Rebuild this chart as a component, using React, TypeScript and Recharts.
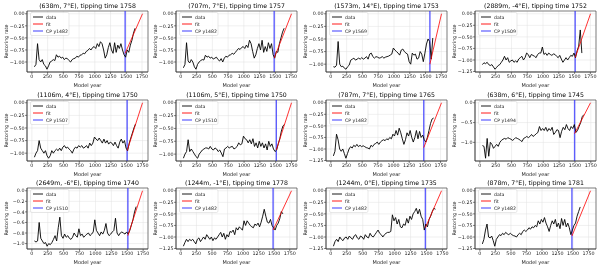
import {
  CartesianGrid,
  ComposedChart,
  Line,
  ReferenceArea,
  ReferenceLine,
  XAxis,
  YAxis,
} from "recharts";

document.body.style.margin = "0";

// shared model years of the sampled restoring-rate series
const years = [
  40, 65, 90, 115, 140, 165, 190, 215, 240, 265,
  290, 315, 340, 365, 390, 415, 440, 465, 490, 515,
  540, 565, 590, 615, 640, 665, 690, 715, 740, 765,
  790, 815, 840, 865, 890, 915, 940, 965, 990, 1015,
  1040, 1065, 1090, 1115, 1140, 1165, 1190, 1215, 1240, 1265,
  1290, 1315, 1340, 1365, 1390, 1415, 1440, 1465, 1490, 1515,
  1540, 1565, 1590, 1615, 1640,
];

const titles = [
  "(638m, 7°E), tipping time 1758",
  "(707m, 7°E), tipping time 1757",
  "(1573m, 14°E), tipping time 1753",
  "(2889m, -4°E), tipping time 1752",
  "(1106m, 4°E), tipping time 1750",
  "(1106m, 5°E), tipping time 1750",
  "(787m, 7°E), tipping time 1765",
  "(638m, 6°E), tipping time 1745",
  "(2649m, -6°E), tipping time 1740",
  "(1244m, -1°E), tipping time 1778",
  "(1244m, 0°E), tipping time 1735",
  "(878m, 7°E), tipping time 1781",
];
const tipYears = [1758, 1757, 1753, 1752, 1750, 1750, 1765, 1745, 1740, 1778, 1735, 1781];
const cpYears = [1482, 1482, 1569, 1509, 1507, 1510, 1482, 1494, 1510, 1482, 1482, 1482];
const fitStarts = [-0.82, -0.92, -1.0, -0.95, -0.95, -0.92, -0.97, -0.78, -0.85, -0.85, -0.8, -0.98];

const p1 = [
  -1.10, -1.05, -0.62, -0.95, -1.00, -0.95, -1.05, -1.08, -1.15, -1.08,
  -1.00, -0.98, -0.95, -0.97, -0.85, -0.90, -0.88, -0.92, -0.90, -0.95,
  -0.92, -0.93, -0.97, -1.00, -0.95, -0.93, -0.92, -0.88, -0.90, -0.86,
  -0.85, -0.82, -0.83, -0.78, -0.76, -0.72, -0.75, -0.70, -0.68, -0.72,
  -0.62, -0.68, -0.58, -0.62, -0.75, -0.92, -0.85, -0.70, -0.60, -0.75,
  -0.82, -0.60, -0.80, -0.65, -0.72, -0.62, -0.75, -0.85, -0.90, -0.75,
  -0.80, -0.65, -0.55, -0.40, -0.30,
];
const p2 = [
  -1.12, -1.05, -0.60, -0.98, -1.02, -0.95, -1.00, -1.10, -1.15, -1.05,
  -1.00, -0.97, -0.95, -0.96, -0.86, -0.90, -0.88, -0.92, -0.90, -0.94,
  -0.92, -0.90, -0.95, -0.98, -0.93, -1.00, -0.92, -0.88, -0.90, -0.86,
  -0.85, -0.82, -0.84, -0.80, -0.76, -0.72, -0.74, -0.70, -0.68, -0.72,
  -0.65, -0.70, -0.55, -0.62, -0.78, -0.92, -0.85, -0.72, -0.62, -0.75,
  -0.55, -0.80, -0.68, -0.78, -0.60, -0.72, -0.62, -0.85, -0.92, -0.78,
  -0.80, -0.62, -0.50, -0.38, -0.30,
];
const p3 = [
  -1.05, -1.06, -1.02, -0.55, -1.00, -1.05, -1.04, -1.08, -1.10, -1.05,
  -1.02, -0.92, -0.90, -0.88, -0.92, -0.90, -0.88, -0.90, -0.87, -0.90,
  -0.88, -0.85, -0.90, -0.80, -0.78, -0.85, -0.88, -0.85, -0.86, -0.88,
  -0.87, -0.85, -0.88, -0.86, -0.85, -0.84, -0.82, -0.80, -0.68, -0.72,
  -0.75, -0.78, -0.82, -0.72, -0.70, -0.75, -0.78, -0.80, -0.95, -1.00,
  -0.78, -0.82, -0.80, -0.90, -0.88, -0.75, -0.80, -0.95, -0.78, -0.60,
  -0.50, -0.55, -0.90, -0.48, null,
];
const p4 = [
  -1.10, -1.06, -1.08, -1.05, -1.10, -1.12, -1.10, -1.15, -1.20, -1.16,
  -1.12, -1.10, -1.05, -1.00, -0.92, -1.00, -0.95, -1.05, -1.02, -1.00,
  -1.05, -1.02, -1.05, -0.98, -0.95, -0.92, -1.00, -0.95, -0.85, -0.88,
  -0.95, -0.88, -0.90, -0.92, -0.95, -0.88, -0.85, -0.85, -0.72, -0.88,
  -0.85, -0.90, -0.85, -0.88, -0.90, -0.87, -0.88, -0.92, -0.95, -0.90,
  -0.98, -1.05, -1.00, -0.95, -1.00, -0.95, -0.90, -0.92, -0.85, -0.95,
  -0.80, -0.70, -0.35, -0.85, null,
];
const p5 = [
  -1.08, -1.00, -0.95, -0.75, -0.90, -0.95, -1.00, -0.95, -1.05, -1.10,
  -1.05, -0.95, -1.00, -0.95, -0.92, -0.95, -0.90, -0.95, -0.88, -0.85,
  -0.90, -0.88, -0.92, -0.95, -1.00, -0.92, -0.88, -0.90, -0.85, -0.88,
  -0.85, -0.90, -0.88, -0.85, -0.90, -0.80, -0.85, -0.80, -0.68, -0.72,
  -0.75, -0.70, -0.75, -0.80, -0.72, -0.80, -0.75, -0.82, -0.78, -0.80,
  -0.85, -0.78, -0.85, -0.90, -0.78, -0.72, -0.80, -0.75, -0.90, -0.95,
  -0.80, -0.70, -0.60, -0.50, -0.42,
];
const p6 = [
  -1.08, -1.00, -0.95, -0.72, -0.95, -0.90, -0.95, -1.00, -1.05, -1.08,
  -1.00, -0.96, -0.92, -0.90, -0.88, -0.88, -0.90, -0.85, -0.90, -0.92,
  -0.88, -0.90, -0.95, -0.92, -0.98, -1.05, -0.90, -0.88, -0.85, -0.88,
  -0.86, -0.85, -0.90, -0.88, -0.85, -0.78, -0.82, -0.80, -0.65, -0.70,
  -0.72, -0.78, -0.72, -0.80, -0.70, -0.85, -0.78, -0.88, -0.75, -0.85,
  -0.78, -0.88, -0.80, -0.92, -0.75, -0.85, -0.80, -0.90, -0.95, -0.92,
  -0.80, -0.70, -0.55, -0.45, -0.42,
];
const p7 = [
  -1.15, -1.05, -0.68, -0.80, -1.00, -1.05, -1.00, -1.10, -1.20, -1.10,
  -1.00, -0.95, -0.98, -0.92, -0.95, -0.90, -0.95, -0.92, -0.95, -0.93,
  -0.95, -0.97, -0.98, -1.00, -0.92, -0.95, -0.90, -0.88, -0.85, -0.90,
  -0.85, -0.82, -0.80, -0.82, -0.78, -0.80, -0.75, -0.78, -0.68, -0.72,
  -0.60, -0.70, -0.55, -0.65, -0.78, -0.90, -0.80, -0.65, -0.72, -0.60,
  -0.75, -0.85, -0.75, -0.60, -0.78, -0.62, -0.75, -0.70, -0.80, -0.85,
  -0.75, -0.60, -0.45, -0.35, -0.33,
];
const p8 = [
  -1.08, -1.10, -1.40, -0.90, -1.35, -1.00, -1.05, -1.15, -1.10, -1.05,
  -1.10, -1.00, -0.95, -0.92, -0.90, -0.92, -0.88, -0.90, -0.92, -0.95,
  -0.92, -0.88, -0.90, -0.92, -0.95, -0.98, -0.90, -0.88, -0.85, -0.88,
  -0.85, -0.80, -0.85, -0.82, -0.78, -0.75, -0.60, -0.70, -0.65, -0.70,
  -0.62, -0.72, -0.65, -0.70, -0.62, -0.80, -0.75, -0.68, -0.70, -0.88,
  -0.72, -0.62, -0.68, -0.55, -0.65, -0.70, -0.60, -0.65, -0.55, -0.75,
  -0.70, -0.60, -0.50, -0.35, -0.30,
];
const p9 = [
  -0.95, -0.97, -0.95, -0.60, -0.90, -0.95, -1.00, -0.98, -1.05, -1.00,
  -1.02, -0.98, -0.92, -0.85, -0.95, -0.70, -0.50, -0.85, -0.90, -0.82,
  -0.88, -0.85, -0.90, -0.92, -0.88, -0.80, -0.85, -0.88, -0.72, -0.85,
  -0.82, -0.88, -0.85, -0.82, -0.80, -0.85, -0.82, -0.78, -0.55, -0.75,
  -0.80, -0.85, -0.78, -0.82, -0.75, -0.62, -0.80, -0.85, -0.82, -0.78,
  -0.75, -0.52, -0.80, -0.85, -0.80, -0.78, -0.80, -0.82, -0.78, -0.82,
  -0.75, -0.65, -0.55, -0.40, -0.30,
];
const p10 = [
  -1.20, -1.12, -1.05, -1.10, -1.05, -1.08, -1.05, -1.10, -1.15, -1.05,
  -1.02, -1.10, -1.05, -1.00, -1.05, -0.95, -1.00, -1.05, -1.00, -1.08,
  -1.02, -1.05, -1.00, -0.95, -0.90, -1.00, -0.92, -1.05, -0.95, -1.00,
  -0.88, -0.90, -0.85, -0.95, -0.80, -0.85, -0.78, -0.82, -0.85, -0.65,
  -0.75, -0.65, -0.70, -0.75, -0.78, -0.80, -0.72, -0.75, -0.70, -0.78,
  -0.68, -0.55, -0.40, -0.55, -0.68, -0.70, -0.62, -0.75, -0.80, -0.85,
  -0.75, -0.70, -0.60, -0.45, -0.50,
];
const p11 = [
  -1.20, -1.10, -1.05, -1.10, -1.00, -1.05, -1.08, -1.02, -1.00, -1.05,
  -0.98, -1.02, -1.05, -0.98, -0.95, -1.02, -1.05, -0.98, -1.00, -1.05,
  -0.95, -1.00, -1.02, -0.92, -0.98, -1.00, -0.95, -0.90, -0.85, -0.92,
  -0.95, -1.00, -0.95, -0.92, -0.90, -0.90, -0.88, -0.52, -0.65, -0.58,
  -0.72, -0.62, -0.78, -0.80, -0.72, -0.75, -0.60, -0.70, -0.55, -0.62,
  -0.50, -0.45, -0.38, -0.50, -0.40, -0.55, -0.62, -0.85, -0.72, -0.78,
  -0.62, -0.55, -0.45, -0.38, -0.40,
];
const p12 = [
  -1.15, -1.05, -0.85, -0.72, -1.00, -1.02, -0.98, -1.08, -1.20, -1.05,
  -1.00, -0.95, -0.97, -0.92, -0.95, -0.90, -0.93, -0.95, -0.92, -0.95,
  -0.97, -0.98, -1.00, -0.95, -0.92, -0.95, -0.88, -0.85, -0.88, -0.85,
  -0.80, -0.83, -0.78, -0.80, -0.75, -0.78, -0.65, -0.72, -0.62, -0.68,
  -0.58, -0.70, -0.78, -0.88, -0.75, -0.65, -0.72, -0.62, -0.78, -0.70,
  -0.82, -0.60, -0.75, -0.62, -0.78, -0.70, -0.80, -0.95, -0.85, -0.75,
  -0.70, -0.55, -0.45, -0.35, null,
];
const series: (number | null)[][] = [p1, p2, p3, p4, p5, p6, p7, p8, p9, p10, p11, p12];

const xTicks = [0, 250, 500, 750, 1000, 1250, 1500, 1750];
const ticksQuarter = [0, -0.25, -0.5, -0.75, -1.0, -1.25];
const ticksHalf = [0, -0.5, -1.0];
const ticksFifth = [0, -0.2, -0.4, -0.6, -0.8, -1.0];
const yTicks = [
  ticksQuarter, ticksQuarter, ticksQuarter, ticksQuarter,
  ticksQuarter, ticksQuarter, ticksQuarter, ticksHalf,
  ticksFifth, ticksQuarter, ticksQuarter, ticksQuarter,
];
const yDecimals = [2, 2, 2, 2, 2, 2, 2, 1, 1, 2, 2, 2];

const FONT = "'DejaVu Sans', sans-serif";
const firstYear = 10;
const CP_BLUE = "#2a2aff";

const fmt = (d: number) => (v: number) =>
  (v < -1e-9 ? "\u2212" : "") + Math.abs(v).toFixed(d);

function Panel({ idx }: { idx: number }) {
  const values = series[idx];
  const cp = cpYears[idx];
  const tip = tipYears[idx];
  const data = years.map((y, i) => ({ year: y, rate: values[i] }));
  const fit = [
    { year: cp, rate: fitStarts[idx] },
    { year: tip, rate: 0 },
  ];

  const nums = values.filter((v): v is number => v !== null).concat([fitStarts[idx], 0]);
  const lo = Math.min(...nums);
  const hi = Math.max(...nums);
  const yPad = (hi - lo) * 0.05;
  const yDomain: [number, number] = [lo - yPad, hi + yPad];
  const xPad = (tip - firstYear) * 0.05;
  const xDomain: [number, number] = [firstYear - xPad, tip + xPad];
  const ticks = yTicks[idx].filter((t) => t >= yDomain[0] - 1e-9 && t <= yDomain[1]);

  const col = idx % 4;
  const row = Math.floor(idx / 4);
  const tickStyle = { fontSize: 4.8, fill: "#1a1a1a", fontFamily: FONT };

  const legend = [
    { name: "data", color: "#000", w: 0.9, op: 1 },
    { name: "fit", color: "#ff0000", w: 0.9, op: 1 },
    { name: `CP y${cp}`, color: CP_BLUE, w: 1.8, op: 0.5 },
  ];

  return (
    <div
      style={{
        position: "absolute",
        left: col * 149.3,
        top: row * 88.7,
        width: 150,
        height: 89,
      }}
    >
      <ComposedChart width={150} height={89} margin={{ top: 11, right: 2, bottom: 0, left: 0 }}>
        <CartesianGrid stroke="#e0e0e0" strokeWidth={0.5} />
        <XAxis
          dataKey="year"
          type="number"
          domain={xDomain}
          allowDataOverflow
          ticks={xTicks}
          height={17}
          tickSize={2}
          tickMargin={0.5}
          tick={tickStyle}
          stroke="#333"
          strokeWidth={0.6}
          interval={0}
          label={{
            value: "Model year",
            position: "insideBottom",
            offset: 2,
            style: { fontSize: 5, fill: "#1a1a1a", fontFamily: FONT },
          }}
        />
        <YAxis
          type="number"
          domain={yDomain}
          allowDataOverflow
          ticks={ticks}
          width={27}
          tickSize={2}
          tickMargin={0.5}
          tick={tickStyle}
          stroke="#333"
          strokeWidth={0.6}
          interval={0}
          tickFormatter={fmt(yDecimals[idx])}
        />
        <ReferenceLine x={cp} stroke={CP_BLUE} strokeOpacity={0.75} strokeWidth={1.4} />
        <Line
          data={data}
          dataKey="rate"
          stroke="#000"
          strokeWidth={0.9}
          dot={false}
          connectNulls={false}
          isAnimationActive={false}
        />
        <Line
          data={fit}
          dataKey="rate"
          stroke="#ff0000"
          strokeWidth={0.8}
          dot={false}
          isAnimationActive={false}
        />
        <ReferenceArea
          x1={xDomain[0]}
          x2={xDomain[1]}
          y1={yDomain[0]}
          y2={yDomain[1]}
          fill="none"
          stroke="#333"
          strokeWidth={0.6}
          ifOverflow="visible"
        />
      </ComposedChart>

      <svg
        width={150}
        height={89}
        style={{ position: "absolute", left: 0, top: 0, pointerEvents: "none" }}
        fontFamily={FONT}
      >
        <text x={87.5} y={8.2} textAnchor="middle" fontSize={6.2} fill="#000">
          {titles[idx]}
        </text>
        <text
          x={6}
          y={41.5}
          textAnchor="middle"
          dominantBaseline="central"
          fontSize={4.8}
          fill="#1a1a1a"
          transform="rotate(-90 6 41.5)"
        >
          Restoring rate
        </text>
        <rect
          x={30.5}
          y={12.5}
          width={38.5}
          height={23}
          rx={1.5}
          fill="#fff"
          fillOpacity={0.85}
          stroke="#d0d0d0"
          strokeWidth={0.5}
        />
        {legend.map((e, i) => (
          <g key={e.name}>
            <line
              x1={33}
              x2={43}
              y1={17 + i * 7}
              y2={17 + i * 7}
              stroke={e.color}
              strokeWidth={e.w}
              strokeOpacity={e.op}
            />
            <text x={46} y={18.7 + i * 7} fontSize={4.6} fill="#1a1a1a">
              {e.name}
            </text>
          </g>
        ))}
      </svg>
    </div>
  );
}

export default function App() {
  return (
    <div
      style={{
        position: "relative",
        width: 598,
        height: 266,
        background: "#fff",
        overflow: "hidden",
        willChange: "transform",
      }}
    >
      {titles.map((_, i) => (
        <Panel key={i} idx={i} />
      ))}
    </div>
  );
}
